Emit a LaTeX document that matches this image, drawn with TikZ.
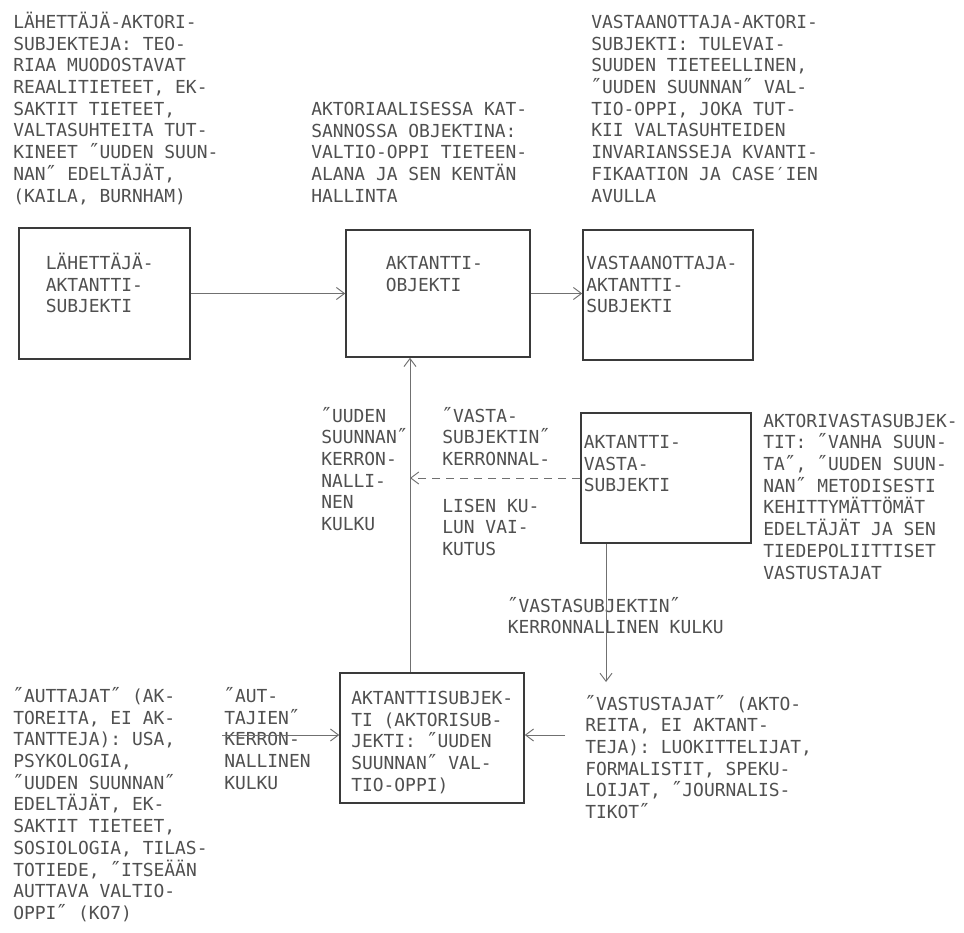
\documentclass[tikz,border=0pt]{standalone}
\usepackage{fontspec}
\newfontfamily\tw{DejaVu Sans Mono}
\usetikzlibrary{arrows.meta,fit}
\definecolor{ink}{HTML}{505050}
\definecolor{boxc}{HTML}{3a3a3a}
\definecolor{linec}{HTML}{707070}
\newcommand\fl{\rule{0pt}{13pt}}
\newcommand\qq{\makebox[8.1pt]{\fontsize{15.5pt}{16pt}\selectfont ″}}
\begin{document}
\begin{tikzpicture}[x=0.75pt,y=-0.75pt,
  txt/.style={anchor=north west,inner sep=0pt,align=left,text=ink,
    font=\tw\fontsize{13.45pt}{16.3pt}\selectfont},
  box/.style={draw=boxc,line width=1.2pt,inner sep=0pt},
  arr/.style={draw=linec,line width=0.7pt,-{Straight Barb[length=6pt,width=9pt]}},
  dsh/.style={arr,dash pattern=on 6pt off 4.5pt}]
\useasboundingbox[fill=white] (0,0) rectangle (964,932);

% boxes
\coordinate (b1a) at (19,228);  \coordinate (b1b) at (190,359);
\coordinate (b2a) at (346,230); \coordinate (b2b) at (530,357);
\coordinate (b3a) at (583,230); \coordinate (b3b) at (753,360);
\coordinate (b4a) at (581,413); \coordinate (b4b) at (751,543);
\coordinate (b5a) at (340,673); \coordinate (b5b) at (524,803);
\node[box,fit=(b1a)(b1b)] (b1) {};
\node[box,fit=(b2a)(b2b)] (b2) {};
\node[box,fit=(b3a)(b3b)] (b3) {};
\node[box,fit=(b4a)(b4b)] (b4) {};
\node[box,fit=(b5a)(b5b)] (b5) {};

% box texts
\node[txt] (b1t) at (45.5,251.7) {\fl LÄHETTÄJÄ-\\AKTANTTI-\\SUBJEKTI};
\node[txt] (b2t) at (385.5,251.7) {\fl AKTANTTI-\\OBJEKTI};
\node[txt] (b3t) at (586,251.7) {\fl VASTAANOTTAJA-\\AKTANTTI-\\SUBJEKTI};
\node[txt] (b4t) at (583.5,430.7) {\fl AKTANTTI-\\VASTA-\\SUBJEKTI};
\node[txt] (b5t) at (351,686.7) {\fl AKTANTTISUBJEK-\\TI (AKTORISUB-\\JEKTI: \qq UUDEN\\SUUNNAN\qq{} VAL-\\TIO-OPPI)};

% free texts
\node[txt] (tl) at (13,10.7) {\fl LÄHETTÄJÄ-AKTORI-\\SUBJEKTEJA: TEO-\\RIAA MUODOSTAVAT\\REAALITIETEET, EK-\\SAKTIT TIETEET,\\VALTASUHTEITA TUT-\\KINEET \qq UUDEN SUUN-\\NAN\qq{} EDELTÄJÄT,\\(KAILA, BURNHAM)};
\node[txt] (tm) at (311,97.7) {\fl AKTORIAALISESSA KAT-\\SANNOSSA OBJEKTINA:\\VALTIO-OPPI TIETEEN-\\ALANA JA SEN KENTÄN\\HALLINTA};
\node[txt] (tr) at (591,10.7) {\fl VASTAANOTTAJA-AKTORI-\\SUBJEKTI: TULEVAI-\\SUUDEN TIETEELLINEN,\\\qq UUDEN SUUNNAN\qq{} VAL-\\TIO-OPPI, JOKA TUT-\\KII VALTASUHTEIDEN\\INVARIANSSEJA KVANTI-\\FIKAATION JA CASE′IEN\\AVULLA};
\node[txt] (uk) at (321,404.4) {\fl \qq UUDEN\\SUUNNAN\qq\\KERRON-\\NALLI-\\NEN\\KULKU};
\node[txt] (vk1) at (442,404.4) {\fl \qq VASTA-\\SUBJEKTIN\qq\\KERRONNAL-};
\node[txt] (vk2) at (442,494.4) {\fl LISEN KU-\\LUN VAI-\\KUTUS};
\node[txt] (avs) at (763,409.4) {\fl AKTORIVASTASUBJEK-\\TIT: \qq VANHA SUUN-\\TA\qq, \qq UUDEN SUUN-\\NAN\qq{} METODISESTI\\KEHITTYMÄTTÖMÄT\\EDELTÄJÄT JA SEN\\TIEDEPOLIITTISET\\VASTUSTAJAT};
\node[txt] (vsk) at (507.5,594.4) {\fl \qq VASTASUBJEKTIN\qq\\KERRONNALLINEN KULKU};
\node[txt] (vst) at (585,692.4) {\fl \qq VASTUSTAJAT\qq{} (AKTO-\\REITA, EI AKTANT-\\TEJA): LUOKITTELIJAT,\\FORMALISTIT, SPEKU-\\LOIJAT, \qq JOURNALIS-\\TIKOT\qq};
\node[txt] (aut) at (13,684.7) {\fl \qq AUTTAJAT\qq{} (AK-\\TOREITA, EI AK-\\TANTTEJA): USA,\\PSYKOLOGIA,\\\qq UUDEN SUUNNAN\qq\\EDELTÄJÄT, EK-\\SAKTIT TIETEET,\\SOSIOLOGIA, TILAS-\\TOTIEDE, \qq ITSEÄÄN\\AUTTAVA VALTIO-\\OPPI\qq{} (KO7)};
\node[txt] (autk) at (224,684.7) {\fl \qq AUT-\\TAJIEN\qq\\KERRON-\\NALLINEN\\KULKU};

% connectors
\coordinate (vx) at (410,0);
\coordinate (vtip) at (606,682);
\coordinate (lin) at (222,735);
\coordinate (rin) at (565,735);
\draw[arr] (b1.east) -- (b2.west);
\draw[arr] (b2.east) -- (b2.east -| b3.west);
\draw[arr] (vx |- b5.north) -- (vx |- b2.south);
\draw[dsh] (b4.west) -- (b4.west -| vx);
\draw[arr] (vtip |- b4.south) -- (vtip);
\draw[arr] (lin) -- (lin -| b5.west);
\draw[arr] (rin) -- (rin -| b5.east);
\end{tikzpicture}
\end{document}
